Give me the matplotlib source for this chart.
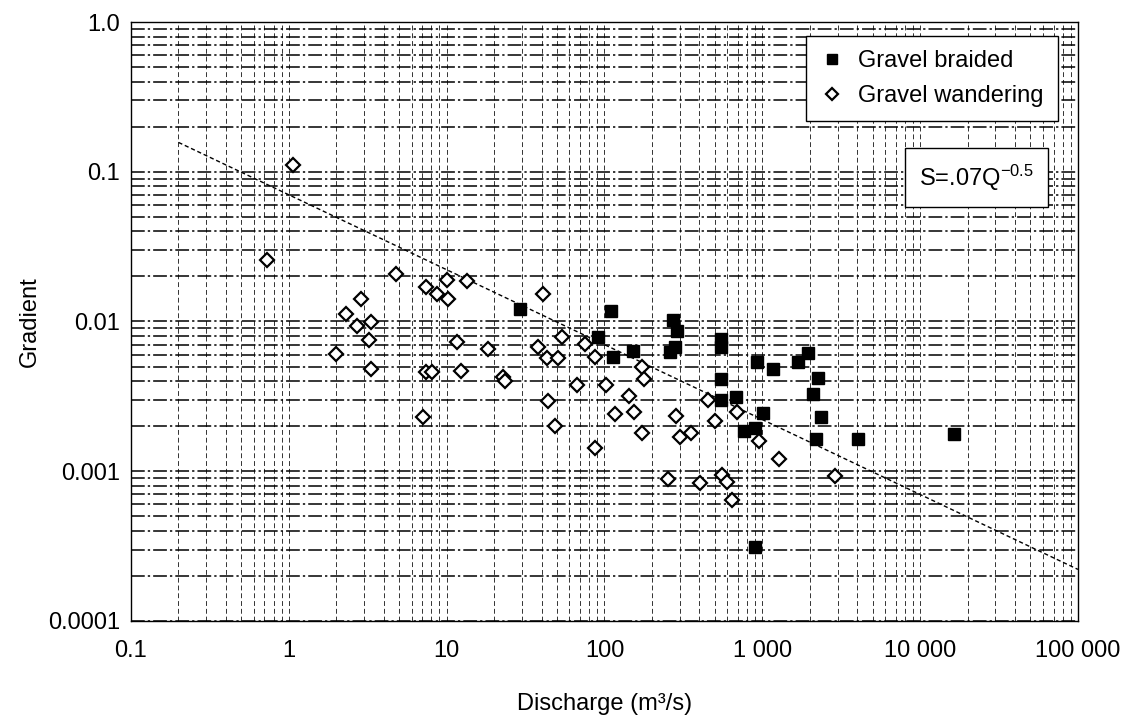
import matplotlib
matplotlib.use("Agg")
import matplotlib.pyplot as plt
from matplotlib.ticker import FixedLocator, LogLocator, NullFormatter

plt.rcParams["font.family"] = ["Liberation Sans", "DejaVu Sans"]

# Gravel braided (filled squares): discharge m3/s, gradient
braided_q = [29.2, 110, 91.1, 114, 151, 272, 290, 280, 260, 546, 546, 546, 546,
             677, 767, 900, 900, 927, 1007, 1175, 1675, 1960, 2266, 2109, 2359,
             2193, 4064, 16500]
braided_s = [0.0121, 0.0118, 0.00792, 0.00582, 0.00638, 0.0102, 0.00868, 0.00679,
             0.00626, 0.00764, 0.00676, 0.00416, 0.00297, 0.00313, 0.00186, 0.00194,
             0.000313, 0.00539, 0.00246, 0.00480, 0.00537, 0.00613, 0.00418, 0.00328,
             0.00230, 0.00163, 0.00163, 0.00177]

# Gravel wandering (open diamonds)
wandering_q = [1.07, 0.731, 4.78, 10.1, 13.5, 7.4, 8.73, 10.2, 2.87, 41.0, 2.30, 3.34,
               2.69, 3.20, 11.6, 18.4, 37.9, 43.5, 1.99, 3.30, 7.44, 8.02, 12.4, 22.9,
               23.6, 43.6, 7.06, 50.8, 54.1, 75.0, 87.2, 67.0, 103, 172, 179, 143, 154,
               116, 283, 454, 502, 689, 48.6, 172, 301, 352, 86.8, 253, 403, 556, 598,
               641, 959, 1283, 2892]
wandering_s = [0.111, 0.0256, 0.0208, 0.0188, 0.0187, 0.0170, 0.0153, 0.0141, 0.0141,
               0.0153, 0.0112, 0.00997, 0.00933, 0.00752, 0.00730, 0.00655, 0.00679,
               0.00571, 0.00607, 0.00480, 0.00462, 0.00462, 0.00464, 0.00429, 0.00401,
               0.00296, 0.00230, 0.00573, 0.00788, 0.00705, 0.00577, 0.00377, 0.00377,
               0.00499, 0.00416, 0.00318, 0.00248, 0.00241, 0.00233, 0.00298, 0.00218,
               0.00248, 0.00201, 0.00181, 0.00170, 0.00181, 0.00143, 0.000884, 0.000831,
               0.000951, 0.000841, 0.000643, 0.00158, 0.00120, 0.000925]

# fitted line S = .07 Q^-0.5, end points as drawn
trend_q = [0.2, 100000]
trend_s = [0.157, 0.000221]

x_ticks = [0.1, 1, 10, 100, 1000, 10000, 100000]
x_labels = ["0.1", "1", "10", "100", "1 000", "10 000", "100 000"]
y_ticks = [0.0001, 0.001, 0.01, 0.1, 1.0]
y_labels = ["0.0001", "0.001", "0.01", "0.1", "1.0"]

fig = plt.figure(figsize=(11.39, 7.24), dpi=100)
ax = fig.add_axes([0.1150, 0.1423, 0.8314, 0.8273])
ax.set_xscale("log")
ax.set_yscale("log")
ax.set_xlim(0.1, 100000)
ax.set_ylim(0.0001, 1.0)

ax.xaxis.set_major_locator(FixedLocator(x_ticks))
ax.yaxis.set_major_locator(FixedLocator(y_ticks))
ax.xaxis.set_minor_locator(LogLocator(base=10, subs=range(2, 10), numticks=20))
ax.yaxis.set_minor_locator(LogLocator(base=10, subs=range(2, 10), numticks=20))
ax.xaxis.set_minor_formatter(NullFormatter())
ax.yaxis.set_minor_formatter(NullFormatter())
ax.set_xticklabels(x_labels)
ax.set_yticklabels(y_labels)
ax.tick_params(which="both", length=0, labelsize=17)
ax.tick_params(axis="x", pad=14)
ax.tick_params(axis="y", pad=8)

ax.grid(True, axis="y", which="both", color="black", linewidth=1.1,
        linestyle=(0, (9, 2, 1.5, 2)))
ax.grid(True, axis="x", which="both", color="black", linewidth=0.7,
        linestyle=(0, (5, 3)), alpha=0.8)
ax.set_axisbelow(True)

for side in ax.spines.values():
    side.set_color("black")
    side.set_linewidth(1.0)

ax.plot(trend_q, trend_s, color="black", linewidth=1.0, linestyle=(0, (3, 2)), zorder=2)

ax.plot(braided_q, braided_s, linestyle="none", marker="s", markersize=9,
        color="black", label="Gravel braided", zorder=3)
ax.plot(wandering_q, wandering_s, linestyle="none", marker="D", markersize=7.5,
        markerfacecolor="white", markeredgecolor="black", markeredgewidth=1.6,
        label="Gravel wandering", zorder=3)

leg = ax.legend(loc="upper right", bbox_to_anchor=(0.979, 0.977), fontsize=17,
                frameon=True, fancybox=False, framealpha=1, edgecolor="black",
                handlelength=1.0, handletextpad=0.6, borderpad=0.6,
                labelspacing=0.55, borderaxespad=0, markerscale=0.8)
leg.get_frame().set_linewidth(1.0)

ax.text(0.893, 0.74, r"S=.07Q$\mathregular{^{-0.5}}$", transform=ax.transAxes,
        fontsize=17, ha="center", va="center", zorder=5,
        bbox={"boxstyle": "square,pad=0.6", "fc": "white", "ec": "black", "lw": 1.0})

ax.set_xlabel("Discharge (m\u00b3/s)", fontsize=17, labelpad=22)
ax.set_ylabel("Gradient", fontsize=17)
ax.yaxis.set_label_coords(-0.095, 0.5)

fig.savefig("out.png", dpi=100)
